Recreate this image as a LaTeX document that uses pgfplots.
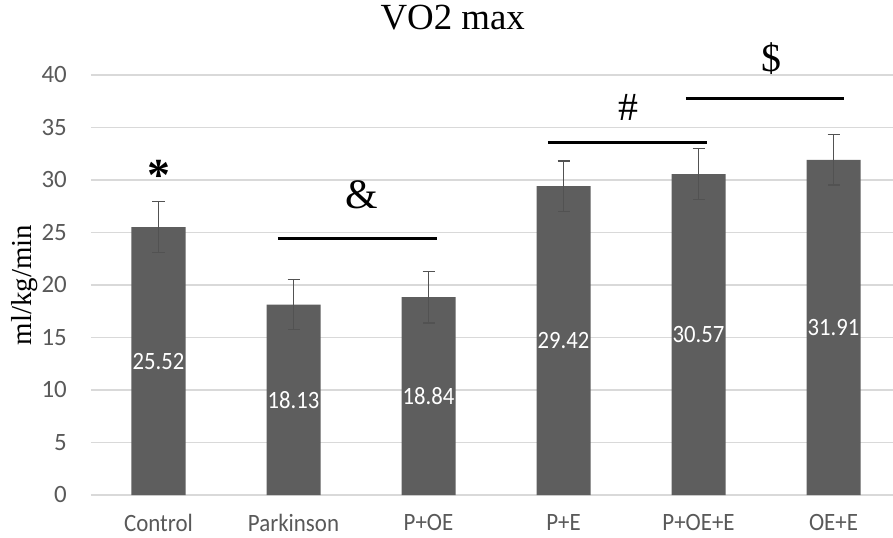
\documentclass[border=0pt]{standalone}
\usepackage{pgfplots}
\pgfplotsset{compat=1.18}
\usepackage{fontspec}
\setmainfont{Liberation Serif}
\newfontfamily\calibri{Carlito}
\usepackage{graphicx}
\definecolor{barcol}{RGB}{94,94,94}
\definecolor{errcol}{RGB}{82,82,82}
\definecolor{gridcol}{RGB}{217,217,217}
\definecolor{tickcol}{RGB}{89,89,89}
\pgfplotstableread{
x y e
0 25.52 2.45
1 18.13 2.40
2 18.84 2.45
3 29.42 2.40
4 30.57 2.40
5 31.91 2.40
}\vodata
\begin{document}
\begin{tikzpicture}
\begin{axis}[
 name=ax,
 scale only axis, width=802bp, height=420bp,
 xmin=-0.5, xmax=5.4407, ymin=0, ymax=40,
 ytick={0,5,...,40},
 xtick={0,...,5},
 xticklabels={\scalebox{0.92}[1]{Control},\scalebox{0.92}[1]{Parkinson},\scalebox{0.92}[1]{P+OE},\scalebox{0.92}[1]{P+E},\scalebox{0.92}[1]{P+OE+E},\scalebox{0.92}[1]{OE+E}},
 ymajorgrids, grid style={gridcol, line width=1.3bp},
 axis line style={draw=none},
 major tick style={draw=none},
 /pgf/number format/assume math mode=true,
 tick label style={font=\calibri\fontsize{25}{28}\selectfont, text=tickcol, inner sep=0pt},
 yticklabel style={xshift=-24bp},
 xticklabel style={yshift=-19bp},
 ylabel={ml/kg/min},
 every axis y label/.style={at={(axis description cs:-0.0823,0.5)}, rotate=90, anchor=center, font=\rmfamily\fontsize{29}{32}\selectfont},
 title={VO2 max},
 title style={at={(axis description cs:0.451,1.095)}, anchor=base, font=\fontsize{37}{40}\selectfont},
 clip=false,
]
\addplot[ybar, bar width=54bp, fill=barcol, draw=none,
  error bars/.cd, y dir=both, y explicit,
  error bar style={errcol, line width=1.3bp},
  error mark options={rotate=90, errcol, mark size=6bp, line width=1.3bp}]
  table[x=x, y=y, y error=e] {\vodata};
% value labels
\foreach \xx/\yy/\lab in {0/12.76/25.52, 1/9.07/18.13, 2/9.42/18.84, 3/14.71/29.42, 4/15.29/30.57, 5/15.96/31.91}{
  \edef\tmp{\noexpand\node[text=white, font=\noexpand\calibri\noexpand\fontsize{25}{28}\noexpand\selectfont, inner sep=0pt] at (axis cs:\xx,\yy) {\noexpand\scalebox{0.91}[1]{\lab}};}
  \tmp
}
% significance annotations
\node[anchor=base, font=\bfseries\fontsize{46}{50}\selectfont, inner sep=0pt] at (axis cs:0,29.0) {*};
\node[anchor=base, font=\fontsize{42}{46}\selectfont, inner sep=0pt] at (axis cs:1.507,27.33) {\&};
\node[anchor=base, font=\fontsize{40}{44}\selectfont, inner sep=0pt] at (axis cs:3.478,35.71) {\#};
\node[anchor=base, font=\fontsize{40}{44}\selectfont, inner sep=0pt] at (axis cs:4.537,40.33) {\$};
\draw[black, line width=3.3bp] (axis cs:0.885,24.4) -- (axis cs:2.063,24.4);
\draw[black, line width=3.3bp] (axis cs:2.885,33.55) -- (axis cs:4.063,33.55);
\draw[black, line width=3.3bp] (axis cs:3.907,37.74) -- (axis cs:5.078,37.74);
\end{axis}
\pgfresetboundingbox
\path (ax.south west) ++(-91bp,-43bp) rectangle ++(893bp,538bp);
\end{tikzpicture}
\end{document}
